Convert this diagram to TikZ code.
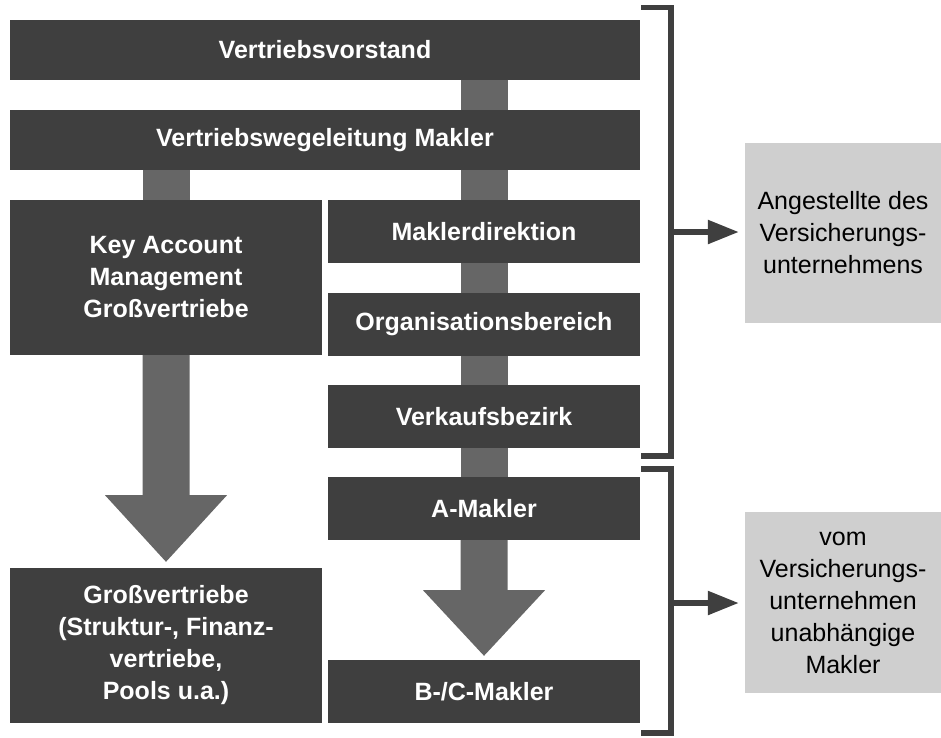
\documentclass[tikz,border=0pt]{standalone}
\usepackage{fontspec}
\setmainfont{Liberation Sans}
\usetikzlibrary{arrows.meta,calc}
\definecolor{boxdark}{HTML}{3F3F3F}
\definecolor{shaftgrey}{HTML}{666666}
\definecolor{notegrey}{HTML}{CFCFCF}
\tikzset{
  orgbox/.style={rectangle, fill=boxdark, text=white, font=\fontsize{25}{32}\selectfont\bfseries,
    align=center, inner sep=0pt},
  wide/.style={orgbox, minimum width=630pt, minimum height=60pt},
  half/.style={orgbox, minimum width=312pt, minimum height=63pt},
  tall/.style={orgbox, minimum width=312pt, minimum height=155pt},
  notebox/.style={rectangle, fill=notegrey, text=black, font=\fontsize{25}{32}\selectfont,
    align=center, inner sep=0pt, minimum width=196pt, minimum height=181pt},
  link/.style={draw=shaftgrey, line width=47pt},
  bigarrow/.style={fill=shaftgrey},
  bracket/.style={draw=boxdark, line width=5.5pt, line join=miter},
  pointer/.style={draw=boxdark, line width=5.5pt, -{Triangle[length=31pt,width=23pt]}, shorten >=6pt}
}
\begin{document}
\begin{tikzpicture}[x=1pt,y=-1pt]
\useasboundingbox (0,0) rectangle (941,737);

% hierarchy boxes
\node[wide] (vv)  at (325,49.5) {Vertriebsvorstand};
\node[wide] (vwl) at (325,140) {Vertriebswegeleitung Makler};
\node[tall] (kam) at (166,277.5) {Key Account\\Management\\Großvertriebe};
\node[half] (md)  at (484,231.5) {Maklerdirektion};
\node[half] (ob)  at (484,324.5) {Organisationsbereich};
\node[half] (vb)  at (484,416.5) {Verkaufsbezirk};
\node[half] (am)  at (484,508.5) {A-Makler};
\node[half] (bcm) at (484,691.5) {B-/C-Makler};
\node[tall] (gv)  at (166,645.5) {Großvertriebe\\(Struktur-, Finanz-\\vertriebe,\\Pools u.a.)};

% links between levels
\draw[link] (md.north |- vv.south) -- (md.north |- vwl.north);
\draw[link] (md.north |- vwl.south) -- (md.north);
\draw[link] (kam.north |- vwl.south) -- (kam.north);
\draw[link] (md.south) -- (ob.north);
\draw[link] (ob.south) -- (vb.north);
\draw[link] (vb.south) -- (am.north);

% broad arrows
\fill[bigarrow] ($(kam.south)+(-23.5,0)$) -- ($(kam.south)+(23.5,0)$)
  -- ($(kam.south)+(23.5,140)$) -- ($(kam.south)+(61,140)$)
  -- ($(gv.north)+(0,-6)$) -- ($(kam.south)+(-61,140)$)
  -- ($(kam.south)+(-23.5,140)$) -- cycle;
\fill[bigarrow] ($(am.south)+(-23.5,0)$) -- ($(am.south)+(23.5,0)$)
  -- ($(am.south)+(23.5,50)$) -- ($(am.south)+(61,50)$)
  -- ($(bcm.north)+(0,-4)$) -- ($(am.south)+(-61,50)$)
  -- ($(am.south)+(-23.5,50)$) -- cycle;

% notes
\node[notebox, minimum height=180pt] (emp) at (843,233) {Angestellte des\\Versicherungs-\\unternehmens};
\node[notebox] (ind) at (843,602.5) {vom\\Versicherungs-\\unternehmen\\unabhängige\\Makler};

% brackets
\draw[bracket] (641,7.5) -| (671,456) -- (641,456);
\draw[bracket] (641,469) -| (671,733) -- (641,733);
\coordinate (b1) at (671,232);
\coordinate (b2) at (671,603);
\draw[pointer] (b1) -- (b1 -| emp.west);
\draw[pointer] (b2) -- (b2 -| ind.west);
\end{tikzpicture}
\end{document}
